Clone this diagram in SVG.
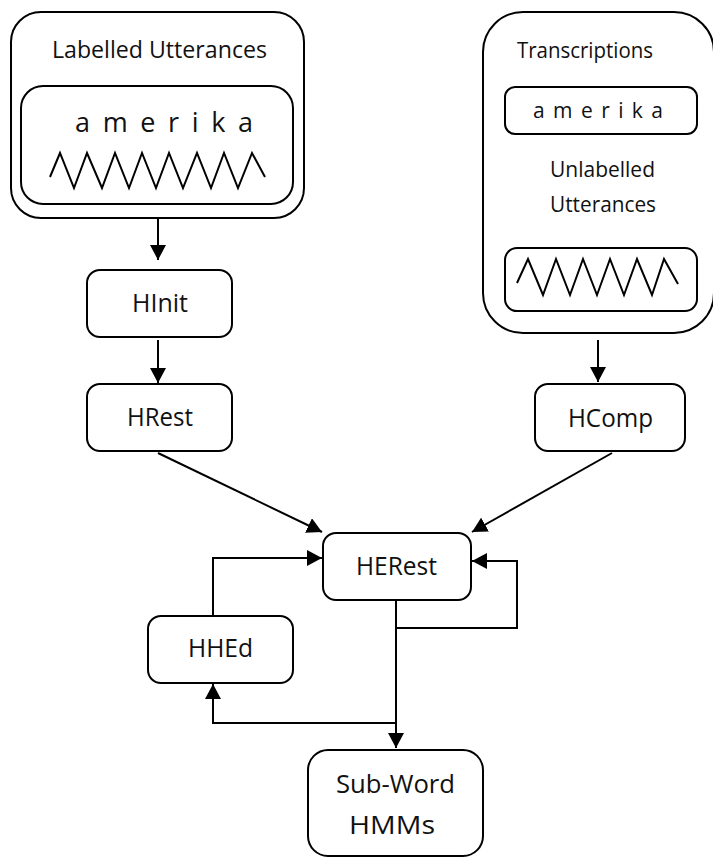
<svg xmlns="http://www.w3.org/2000/svg" width="713" height="859" viewBox="0 0 713 859">
<style>
.box{fill:#fff;stroke:#000;stroke-width:2}
.wave{fill:none;stroke:#000;stroke-width:2;stroke-linejoin:miter}
.t{font-family:"Open Sans","Noto Sans","Liberation Sans",sans-serif;fill:#111}
.n{font-size:26px;text-anchor:middle}
.c{fill:none;stroke:#000;stroke-width:2}
</style>
<defs>
<marker id="ah" markerUnits="userSpaceOnUse" markerWidth="16" markerHeight="16" refX="15" refY="8" orient="auto">
<path d="M0,0 L15,8 L0,16 z" fill="#000"/>
</marker>
</defs>
<rect width="713" height="859" fill="#fff"/>
<g id="labelled">
<rect class="box" x="11" y="12" width="293" height="206" rx="30"/>
<text class="t" x="52" y="58" font-size="24" textLength="215" lengthAdjust="spacingAndGlyphs">Labelled Utterances</text>
<rect class="box" x="21" y="86" width="272" height="118" rx="22"/>
<text class="t" x="75" y="132" font-size="27" textLength="178">a m e r i k a</text>
<path class="wave" d="M50,177 L60,153 L74,188 L87,153 L102,188 L115,153 L129,188 L142,153 L156,188 L169,153 L183,188 L197,153 L211,188 L224,153 L238,188 L252,153 L265,177"/>
</g>
<g id="transcriptions">
<rect class="box" x="483" y="12" width="231" height="321" rx="40"/>
<text class="t" x="517" y="58" font-size="22" textLength="136" lengthAdjust="spacingAndGlyphs">Transcriptions</text>
<rect class="box" x="505" y="87" width="192" height="47" rx="10"/>
<text class="t" x="533" y="118" font-size="21" textLength="130">a m e r i k a</text>
<text class="t" x="550" y="177" font-size="22" textLength="105" lengthAdjust="spacingAndGlyphs">Unlabelled</text>
<text class="t" x="550" y="212" font-size="22" textLength="106" lengthAdjust="spacingAndGlyphs">Utterances</text>
<rect class="box" x="505" y="248" width="192" height="63" rx="12"/>
<path class="wave" d="M517,283 L528,259 L543,295 L556,259 L570,295 L583,259 L597,295 L610,259 L624,295 L637,259 L652,295 L664,259 L678,284"/>
</g>
<g id="hinit">
<rect class="box" x="87" y="270" width="145" height="67" rx="13"/>
<text class="t n" x="160" y="312" textLength="56" lengthAdjust="spacingAndGlyphs">HInit</text>
</g>
<g id="hrest">
<rect class="box" x="87" y="384" width="145" height="67" rx="13"/>
<text class="t n" x="160" y="426" textLength="66" lengthAdjust="spacingAndGlyphs">HRest</text>
</g>
<g id="hcomp">
<rect class="box" x="535" y="384" width="150" height="67" rx="13"/>
<text class="t n" x="610.5" y="427" textLength="85" lengthAdjust="spacingAndGlyphs">HComp</text>
</g>
<g id="herest">
<rect class="box" x="323" y="533" width="148" height="67" rx="13"/>
<text class="t n" x="396.5" y="575" textLength="81" lengthAdjust="spacingAndGlyphs">HERest</text>
</g>
<g id="hhed">
<rect class="box" x="148" y="616" width="145" height="67" rx="13"/>
<text class="t n" x="220.5" y="657" textLength="65" lengthAdjust="spacingAndGlyphs">HHEd</text>
</g>
<g id="subword">
<rect class="box" x="308" y="750" width="175" height="106" rx="20"/>
<text class="t n" x="395.5" y="793" textLength="119" lengthAdjust="spacingAndGlyphs">Sub-Word</text>
<text class="t n" x="392" y="834" textLength="86" lengthAdjust="spacingAndGlyphs">HMMs</text>
</g>
<g id="connectors">
<path class="c" d="M158,219 L158,260" marker-end="url(#ah)"/>
<path class="c" d="M158,340 L158,383" marker-end="url(#ah)"/>
<path class="c" d="M598,340 L598,382" marker-end="url(#ah)"/>
<path class="c" d="M158,453 L322,532" marker-end="url(#ah)"/>
<path class="c" d="M612,453 L472,532" marker-end="url(#ah)"/>
<path class="c" d="M213,616 L213,558 L322,558" marker-end="url(#ah)"/>
<path class="c" d="M396,600 L396,748" marker-end="url(#ah)"/>
<path class="c" d="M396,628 L517,628 L517,561 L472,561" marker-end="url(#ah)"/>
<path class="c" d="M396,723 L213,723 L213,684" marker-end="url(#ah)"/>
</g>
</svg>
